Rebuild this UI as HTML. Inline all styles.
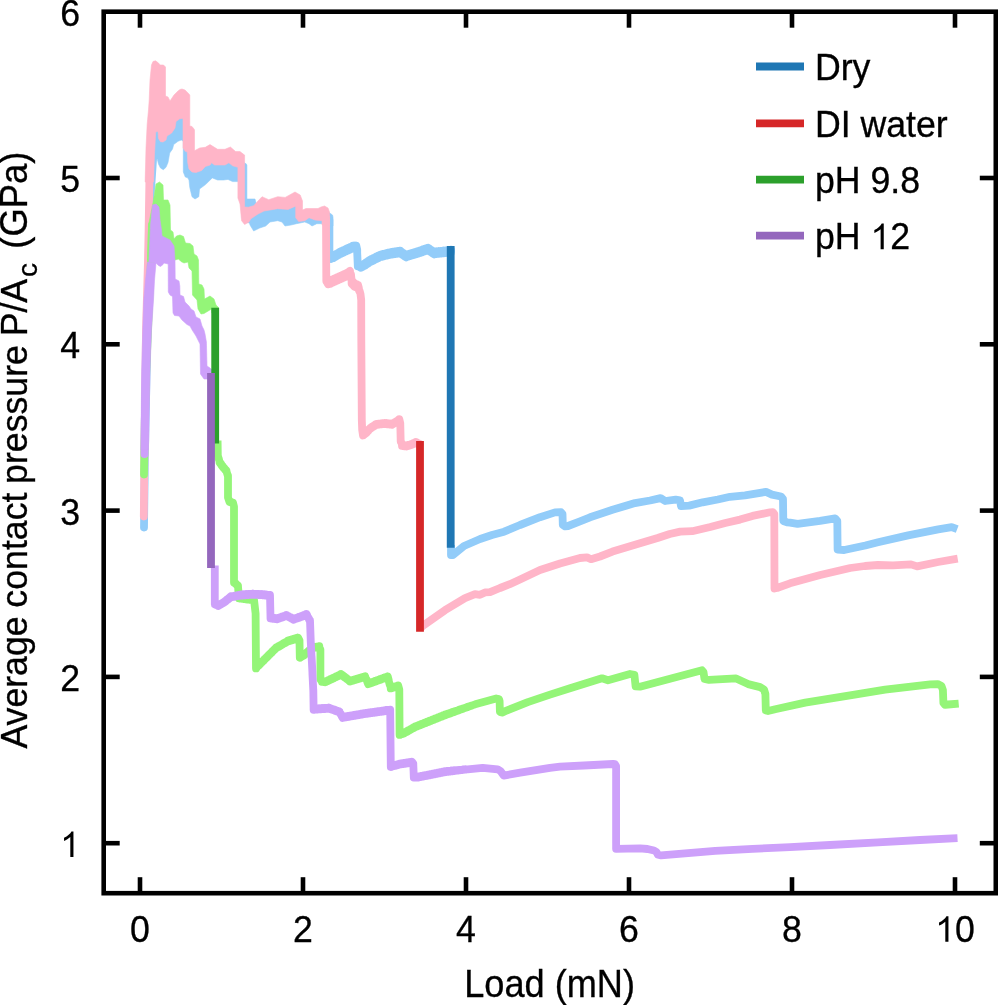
<!DOCTYPE html>
<html><head><meta charset="utf-8"><title>Average contact pressure vs load</title>
<style>
html,body{margin:0;padding:0;background:#fff;}
body{width:998px;height:1005px;overflow:hidden;font-family:"Liberation Sans",sans-serif;}
svg{display:block;will-change:transform;}
.t{font-family:"Liberation Sans",sans-serif;font-size:35.7px;fill:#000;stroke:#000;stroke-width:0.3px;}
</style></head><body>
<svg width="998" height="1005" viewBox="0 0 998 1005">
<rect width="998" height="1005" fill="#fff"/>
<path d="M144,527.5 L145,450 L147.5,330 L149,240 L149.2,225 L150,205 L153,160 L154.5,140 M329.4,220 L329.4,257 L330.2,256.6 L330.2,257.9 L331,258.8 L331,256.2 L331.83,255.93 L331.83,258.53 L332.67,258.27 L332.67,255.67 L333.5,255.4 L333.5,258 L334.31,257.54 L334.31,254.94 L335.12,254.47 L335.12,257.07 L335.94,256.61 L335.94,254.01 L336.75,253.55 L336.75,256.15 L337.56,255.69 L337.56,253.09 L338.38,252.63 L338.38,255.22 L339.19,254.76 L339.19,252.16 L340,251.7 L340,254.3 L340.88,253.89 L340.88,251.29 L341.75,250.88 L341.75,253.47 L342.62,253.06 L342.62,250.46 L343.5,250.05 L343.5,252.65 L344.38,252.24 L344.38,249.64 L345.25,249.22 L345.25,251.82 L346.12,251.41 L346.12,248.81 L347,248.4 L347,251 L347.86,250.61 L347.86,248.01 L348.71,247.63 L348.71,250.23 L349.57,249.84 L349.57,247.24 L350.43,246.86 L350.43,249.46 L351.29,249.07 L351.29,246.47 L352.14,246.09 L352.14,248.69 L353,248.3 L353,245.7 L353.82,245.7 L353.82,248.3 L354.65,248.3 L354.65,245.7 L355.48,245.7 L355.48,248.3 L356.3,248.3 L356.3,245.7 L357.2,249.7 L357.2,252.3 L357.8,266.3 L357.8,263.7 L358.87,264.2 L358.87,266.8 L359.93,267.3 L359.93,264.7 L361,265.2 L361,267.8 L362,267.3 L362,264.7 L363,264.2 L363,266.8 L364,266.3 L364,263.7 L364.86,263.13 L364.86,265.73 L365.71,265.16 L365.71,262.56 L366.57,261.99 L366.57,264.59 L367.43,264.01 L367.43,261.41 L368.29,260.84 L368.29,263.44 L369.14,262.87 L369.14,260.27 L370,259.7 L370,262.3 L370.83,261.88 L370.83,259.28 L371.67,258.87 L371.67,261.47 L372.5,261.05 L372.5,258.45 L373.33,258.03 L373.33,260.63 L374.17,260.22 L374.17,257.62 L375,257.2 L375,259.8 L375.83,259.38 L375.83,256.78 L376.67,256.37 L376.67,258.97 L377.5,258.55 L377.5,255.95 L378.33,255.53 L378.33,258.13 L379.17,257.72 L379.17,255.12 L380,254.7 L380,257.3 L380.83,257.09 L380.83,254.49 L381.67,254.28 L381.67,256.88 L382.5,256.68 L382.5,254.08 L383.33,253.87 L383.33,256.47 L384.17,256.26 L384.17,253.66 L385,253.45 L385,256.05 L385.83,255.84 L385.83,253.24 L386.67,253.03 L386.67,255.63 L387.5,255.42 L387.5,252.83 L388.33,252.62 L388.33,255.22 L389.17,255.01 L389.17,252.41 L390,252.2 L390,254.8 L390.83,254.67 L390.83,252.08 L391.67,251.95 L391.67,254.55 L392.5,254.42 L392.5,251.83 L393.33,251.7 L393.33,254.3 L394.17,254.17 L394.17,251.58 L395,251.45 L395,254.05 L395.83,253.92 L395.83,251.33 L396.67,251.2 L396.67,253.8 L397.5,253.67 L397.5,251.08 L398.33,250.95 L398.33,253.55 L399.17,253.42 L399.17,250.83 L400,250.7 L400,253.3 L400.86,253.87 L400.86,251.27 L401.71,251.84 L401.71,254.44 L402.57,255.01 L402.57,252.41 L403.43,252.99 L403.43,255.59 L404.29,256.16 L404.29,253.56 L405.14,254.13 L405.14,256.73 L406,257.3 L406,254.7 L406.83,254.45 L406.83,257.05 L407.67,256.8 L407.67,254.2 L408.5,253.95 L408.5,256.55 L409.33,256.3 L409.33,253.7 L410.17,253.45 L410.17,256.05 L411,255.8 L411,253.2 L411.83,252.95 L411.83,255.55 L412.67,255.3 L412.67,252.7 L413.5,252.45 L413.5,255.05 L414.33,254.8 L414.33,252.2 L415.17,251.95 L415.17,254.55 L416,254.3 L416,251.7 L416.8,251.43 L416.8,254.03 L417.6,253.77 L417.6,251.17 L418.4,250.9 L418.4,253.5 L419.2,253.23 L419.2,250.63 L420,250.37 L420,252.97 L420.8,252.7 L420.8,250.1 L421.6,249.83 L421.6,252.43 L422.4,252.17 L422.4,249.57 L423.2,249.3 L423.2,251.9 L424,251.63 L424,249.03 L424.8,248.77 L424.8,251.37 L425.6,251.1 L425.6,248.5 L426.4,248.23 L426.4,250.83 L427.2,250.57 L427.2,247.97 L428,247.7 L428,250.3 L428.86,250.87 L428.86,248.27 L429.71,248.84 L429.71,251.44 L430.57,252.01 L430.57,249.41 L431.43,249.99 L431.43,252.59 L432.29,253.16 L432.29,250.56 L433.14,251.13 L433.14,253.73 L434,254.3 L434,251.7 L434.81,251.61 L434.81,254.21 L435.62,254.12 L435.62,251.53 L436.44,251.44 L436.44,254.04 L437.25,253.95 L437.25,251.35 L438.06,251.26 L438.06,253.86 L438.88,253.78 L438.88,251.18 L439.69,251.09 L439.69,253.69 L440.5,253.6 L440.5,251 L441.31,250.91 L441.31,253.51 L442.12,253.42 L442.12,250.83 L442.94,250.74 L442.94,253.34 L443.75,253.25 L443.75,250.65 L444.56,250.56 L444.56,253.16 L445.38,253.08 L445.38,250.48 L446.19,250.39 L446.19,252.99 L447,252.9 L447,250.3 L447.8,250.18 L447.8,252.78 L448.6,252.66 L448.6,250.06 L449.4,249.94 L449.4,252.54 L450.2,252.42 L450.2,249.82 L451,249.7 L451,252.3" fill="none" stroke="#92CCF9" stroke-width="7.8" stroke-linejoin="round" stroke-linecap="round"/>
<path d="M451,545 L451,555 L453,555 L464,546 L480.1,539 L492,535 L504.1,531.7 L520,525 L540,517.2 L555,512.4 L561,512.2 L562.5,514 L562.8,525 L565,526.3 L568,526 L580,521.3 L590,517.3 L612.5,509.8 L635,503.1 L650,500.5 L660.6,498.1 L665.2,501 L675.7,499.6 L680,500.3 L681,506.2 L689.2,505.6 L702.7,502.3 L717.8,499.5 L730,496.8 L745,495.3 L766,491.9 L772,494.6 L781,496.5 L783,499 L783.3,521 L787,522.3 L790,522.6 L797.6,523.9 L820,520.9 L835.2,518.3 L837.3,521 L837.6,549.5 L844.2,550 L865.3,545.5 L878,542.3 L908.1,535.4 L938.2,529.4 L951.7,527.1 L957.2,529.2" fill="none" stroke="#92CCF9" stroke-width="7.8" stroke-linejoin="round" stroke-linecap="butt"/>
<polygon points="151,160 152,135 156,125 162,136 170,128 176,116 182,112 184,115 190,160 237,160 243,160 244.6,163.6 246,163.6 246.9,165 246.9,199 248.4,199 255,199 256,203 257,204 262,205 295,205 300,212 322,214 326,214 329,212.5 332.5,215 333,217 333,226 326,226 322,223.7 316.8,223.7 312,226 309,223.7 304.8,222 296.5,223.7 291,225 285,226 282,222 277.7,220.7 270,222 265.7,226 259.7,228 253.7,231 250,225 249.5,223 244,222 242,218 242,181.6 237,181.6 232.6,181.6 228,179.4 223.6,180 217.6,180 212.3,177.9 205.5,184.6 199.5,189 198.8,196.7 195,199 192,196.7 189.8,187.6 189,180 187.7,177.8 185.3,177 183.3,172 183.3,141.5 183,141 181.3,140 178,141.3 173.7,144.5 172.5,149 169.7,153 168,162.5 166,167.3 163.3,169.7 160.5,168 158.5,164 157.3,159.3 156,157" fill="#92CCF9" stroke="#92CCF9" stroke-width="0.6" stroke-linejoin="round"/>
<path d="M143.8,516.5 L144.5,450 L146,330 L148,260 L148.6,230 L149.4,180 L150,165 M326,218 L326.3,281 L327.15,280.9 L327.15,282.6 L328,284.2 L328,280.8 L329,280.65 L329,284.05 L330,283.9 L330,280.5 L330.83,280.12 L330.83,283.53 L331.67,283.15 L331.67,279.75 L332.5,279.37 L332.5,282.78 L333.33,282.4 L333.33,279 L334.17,278.62 L334.17,282.03 L335,281.65 L335,278.25 L335.83,277.87 L335.83,281.28 L336.67,280.9 L336.67,277.5 L337.5,277.12 L337.5,280.53 L338.33,280.15 L338.33,276.75 L339.17,276.37 L339.17,279.78 L340,279.4 L340,276 L340.88,275.6 L340.88,279 L341.75,278.6 L341.75,275.2 L342.62,274.8 L342.62,278.2 L343.5,277.8 L343.5,274.4 L344.38,274 L344.38,277.4 L345.25,277 L345.25,273.6 L346.12,273.2 L346.12,276.6 L347,276.2 L347,272.8 L348,272.13 L348,275.53 L349,274.87 L349,271.47 L350,270.8 L350,274.2 L351,277.7 L351,274.3 L351.6,280.3 L351.6,283.7 L352.57,284.7 L352.57,281.3 L353.53,282.3 L353.53,285.7 L354.5,286.7 L354.5,283.3 L355.38,283.67 L355.38,287.08 L356.25,287.45 L356.25,284.05 L357.12,284.42 L357.12,287.83 L358,288.2 L358,284.8 L358.83,287.87 L358.83,290.13 L359.67,292.07 L359.67,290.93 L360.5,294 L360.5,294 L361.2,300 L361.3,340 L361.8,420 L362.2,430 L363,435.5 L363,434.5 L364,433.83 L364,434.83 L365,434.17 L365,433.17 L366,432.5 L366,433.5 L366.8,432.6 L366.8,431.6 L367.6,430.7 L367.6,431.7 L368.4,430.8 L368.4,429.8 L369.2,428.9 L369.2,429.9 L370,429 L370,428 L370.86,427.43 L370.86,428.43 L371.71,427.86 L371.71,426.86 L372.57,426.29 L372.57,427.29 L373.43,426.71 L373.43,425.71 L374.29,425.14 L374.29,426.14 L375.14,425.57 L375.14,424.57 L376,424 L376,425 L376.8,424.9 L376.8,423.9 L377.6,423.8 L377.6,424.8 L378.4,424.7 L378.4,423.7 L379.2,423.6 L379.2,424.6 L380,424.5 L380,423.5 L380.8,423.4 L380.8,424.4 L381.6,424.3 L381.6,423.3 L382.4,423.2 L382.4,424.2 L383.2,424.1 L383.2,423.1 L384,423 L384,424 L384.8,424.08 L384.8,423.08 L385.6,423.16 L385.6,424.16 L386.4,424.24 L386.4,423.24 L387.2,423.32 L387.2,424.32 L388,424.4 L388,423.4 L388.8,423.48 L388.8,424.48 L389.6,424.56 L389.6,423.56 L390.4,423.64 L390.4,424.64 L391.2,424.72 L391.2,423.72 L392,423.8 L392,424.8 L392.8,424.34 L392.8,423.34 L393.6,422.88 L393.6,423.88 L394.4,423.42 L394.4,422.42 L395.2,421.96 L395.2,422.96 L396,422.5 L396,421.5 L396.82,420.93 L396.82,421.93 L397.65,421.35 L397.65,420.35 L398.48,419.77 L398.48,420.77 L399.3,420.2 L399.3,419.2 L400.3,423.5 L400.3,424.5 L400.7,441.5 L400.7,440.5 L402,445 L402,446 L402.8,446.1 L402.8,445.1 L403.6,445.2 L403.6,446.2 L404.4,446.3 L404.4,445.3 L405.2,445.4 L405.2,446.4 L406,446.5 L406,445.5 L406.8,445.3 L406.8,446.3 L407.6,446.1 L407.6,445.1 L408.4,444.9 L408.4,445.9 L409.2,445.7 L409.2,444.7 L410,444.5 L410,445.5 L410.86,445.14 L410.86,444.14 L411.71,443.79 L411.71,444.79 L412.57,444.43 L412.57,443.43 L413.43,443.07 L413.43,444.07 L414.29,443.71 L414.29,442.71 L415.14,442.36 L415.14,443.36 L416,443 L416,442 L416.9,442.5 L416.9,443.5 L417.8,444 L417.8,443 L418.7,443.5 L418.7,444.5 L419.6,445 L419.6,444" fill="none" stroke="#FFB5C8" stroke-width="7.8" stroke-linejoin="round" stroke-linecap="round"/>
<path d="M420.2,628.5 L424,625 L435,617.2 L445,610.2 L455,604.2 L465,598.2 L475,594.2 L480,594.8 L485,592.4 L490,592.2 L500,588 L509.8,584.2 L520,579.5 L540,570 L560,563.5 L580,558 L587,557.4 L591,559.2 L600,556.5 L612.5,551.6 L635,544.7 L657.6,538 L669.7,534 L680.2,531.6 L692.2,531.2 L710.2,527 L725.3,523 L740,519.6 L752.5,515.9 L770,512.3 L773,512.2 L774.3,514 L774.5,588.5 L777,588 L790,583.3 L820.2,575 L850.2,568 L865,566 L878,565 L893,565.3 L911,564.4 L917.1,566.4 L938.2,562 L957.7,558.7" fill="none" stroke="#FFB5C8" stroke-width="7.8" stroke-linejoin="round" stroke-linecap="butt"/>
<polygon points="145.2,182 145.2,180 146,148 147.2,124 148.5,110 149.2,100 150,80 151.5,65 153,61.5 155.5,60.8 158.5,63 160,65 163.5,65 165.5,67 165.5,96 168,97 170,101 174,95 178,91 180,89.5 182,89 185,90 188,93 189.8,95 189.8,126 192,126.5 194,129 194.5,130 194.5,150 195,150.5 199.7,148 205.3,147.3 210,144.6 217.6,149.3 225,149.3 230.4,147 235.6,151.6 240,151.6 243.9,154.6 244.6,155 244.6,207 248.4,207.2 253.7,205.7 262,196.7 268.7,199.7 277.7,196.7 285.2,197.4 295,192 300.2,195 302.5,201 302.5,210 306,208.5 318,208.5 321,207 324.5,206 328,208 329.5,212 329.6,225 322,225 322,220.7 315,220 309,217.7 304.8,220.7 298.7,221.5 295.7,217.7 295.7,206.4 295,206.4 288,209.4 277.7,208.7 264,211 258,214 250.6,219 249,222 244.6,224.5 241.6,220.7 240,204 237.9,198 237.9,167.3 232.6,165.8 228.9,162.8 225,165 214.6,165 211.6,162.8 210,165 205.3,166.5 201.7,170.5 196,172.5 192,172 189,169 187.7,162.5 187.3,152 185.3,151.3 183,148 183,118.4 179.7,118.8 176,121.6 175,128 171.7,133 167,136 166,140 163,142 160.5,141.7 158.5,138.5 158,131.3 155.7,132 154.4,156 153.6,180 153.6,182" fill="#FFB5C8" stroke="#FFB5C8" stroke-width="0.6" stroke-linejoin="round"/>
<path d="M144,474.5 L144.8,420 L146.3,370 L148,330 L151,260 L152,225" fill="none" stroke="#94F578" stroke-width="7.8" stroke-linejoin="round" stroke-linecap="round"/>
<path d="M217.6,440.6 L217.6,441.4 L217.8,454.6 L217.8,455.4 L218.65,458.9 L218.65,458.1 L219.5,461.6 L219.5,462.4 L220.38,463.65 L220.38,462.85 L221.25,464.1 L221.25,464.9 L222.12,466.15 L222.12,465.35 L223,466.6 L223,467.4 L223.88,468.4 L223.88,467.6 L224.75,468.6 L224.75,469.4 L225.62,470.4 L225.62,469.6 L226.5,470.6 L226.5,471.4 L228,476.4 L228,475.6 L228,496.6 L228,497.4 L229.5,501.9 L229.5,501.1 L230.38,501.47 L230.38,502.28 L231.25,502.65 L231.25,501.85 L232.12,502.22 L232.12,503.03 L233,503.4 L233,502.6 L234,506.6 L234,507.4 L234,582.4 L234,581.6 L234.8,582.4 L234.8,583.2 L235.6,584 L235.6,583.2 L236.4,584 L236.4,584.8 L237.2,585.6 L237.2,584.8 L238,585.6 L238,586.4 L239,598.4 L239,597.6 L239.83,597.71 L239.83,598.51 L240.67,598.62 L240.67,597.82 L241.5,597.93 L241.5,598.73 L242.33,598.84 L242.33,598.04 L243.17,598.16 L243.17,598.96 L244,599.07 L244,598.27 L244.83,598.38 L244.83,599.18 L245.67,599.29 L245.67,598.49 L246.5,598.6 L246.5,599.4 L247.33,599.51 L247.33,598.71 L248.17,598.82 L248.17,599.62 L249,599.73 L249,598.93 L249.83,599.04 L249.83,599.84 L250.67,599.96 L250.67,599.16 L251.5,599.27 L251.5,600.07 L252.33,600.18 L252.33,599.38 L253.17,599.49 L253.17,600.29 L254,600.4 L254,599.6 L255.6,613.6 L255.6,614.4 L256,668.4 L256,667.6 L256.8,666.8 L256.8,667.6 L257.6,666.8 L257.6,666 L258.4,665.2 L258.4,666 L259.2,665.2 L259.2,664.4 L260,663.6 L260,664.4 L260.8,663.6 L260.8,662.8 L261.6,662 L261.6,662.8 L262.4,662 L262.4,661.2 L263.2,660.4 L263.2,661.2 L264,660.4 L264,659.6 L264.8,658.8 L264.8,659.6 L265.6,658.8 L265.6,658 L266.4,657.2 L266.4,658 L267.2,657.2 L267.2,656.4 L268,655.6 L268,656.4 L268.8,655.6 L268.8,654.8 L269.6,654 L269.6,654.8 L270.4,654 L270.4,653.2 L271.2,652.4 L271.2,653.2 L272,652.4 L272,651.6 L272.8,650.8 L272.8,651.6 L273.6,650.8 L273.6,650 L274.4,649.2 L274.4,650 L275.2,649.2 L275.2,648.4 L276,647.6 L276,648.4 L276.8,647.93 L276.8,647.13 L277.6,646.67 L277.6,647.47 L278.4,647 L278.4,646.2 L279.2,645.73 L279.2,646.53 L280,646.07 L280,645.27 L280.8,644.8 L280.8,645.6 L281.6,645.13 L281.6,644.33 L282.4,643.87 L282.4,644.67 L283.2,644.2 L283.2,643.4 L284,642.93 L284,643.73 L284.8,643.27 L284.8,642.47 L285.6,642 L285.6,642.8 L286.4,642.33 L286.4,641.53 L287.2,641.07 L287.2,641.87 L288,641.4 L288,640.6 L288.83,640.35 L288.83,641.15 L289.67,640.9 L289.67,640.1 L290.5,639.85 L290.5,640.65 L291.33,640.4 L291.33,639.6 L292.17,639.35 L292.17,640.15 L293,639.9 L293,639.1 L293.83,638.85 L293.83,639.65 L294.67,639.4 L294.67,638.6 L295.5,638.35 L295.5,639.15 L296.33,638.9 L296.33,638.1 L297.17,637.85 L297.17,638.65 L298,638.4 L298,637.6 L299.5,640.6 L299.5,641.4 L299.8,657.8 L299.8,657 L300.64,656.52 L300.64,657.32 L301.48,656.84 L301.48,656.04 L302.32,655.56 L302.32,656.36 L303.16,655.88 L303.16,655.08 L304,654.6 L304,655.4 L304.86,654.69 L304.86,653.89 L305.71,653.17 L305.71,653.97 L306.57,653.26 L306.57,652.46 L307.43,651.74 L307.43,652.54 L308.29,651.83 L308.29,651.03 L309.14,650.31 L309.14,651.11 L310,650.4 L310,649.6 L310.8,649.1 L310.8,649.9 L311.6,649.4 L311.6,648.6 L312.4,648.1 L312.4,648.9 L313.2,648.4 L313.2,647.6 L314,647.1 L314,647.9 L314.88,647.75 L314.88,646.95 L315.77,646.8 L315.77,647.6 L316.65,647.45 L316.65,646.65 L317.53,646.5 L317.53,647.3 L318.42,647.15 L318.42,646.35 L319.3,646.2 L319.3,647 L320.4,650.4 L320.4,649.6 L320.4,678.6 L320.4,679.4 L321.2,680.65 L321.2,679.85 L322,681.1 L322,681.9 L322.82,682 L322.82,681.2 L323.65,681.3 L323.65,682.1 L324.48,682.2 L324.48,681.4 L325.3,681.5 L325.3,682.3 L326.13,681.91 L326.13,681.11 L326.96,680.71 L326.96,681.51 L327.79,681.12 L327.79,680.32 L328.63,679.92 L328.63,680.72 L329.46,680.33 L329.46,679.53 L330.29,679.13 L330.29,679.93 L331.12,679.54 L331.12,678.74 L331.95,678.34 L331.95,679.14 L332.78,678.75 L332.78,677.95 L333.62,677.55 L333.62,678.35 L334.45,677.96 L334.45,677.16 L335.28,676.76 L335.28,677.56 L336.11,677.17 L336.11,676.37 L336.94,675.97 L336.94,676.77 L337.77,676.38 L337.77,675.58 L338.61,675.18 L338.61,675.98 L339.44,675.59 L339.44,674.79 L340.27,674.39 L340.27,675.19 L341.1,674.8 L341.1,674 L341.92,674.62 L341.92,675.42 L342.74,676.04 L342.74,675.24 L343.55,675.85 L343.55,676.65 L344.37,677.27 L344.37,676.47 L345.19,677.09 L345.19,677.89 L346.01,678.51 L346.01,677.71 L346.83,678.33 L346.83,679.13 L347.65,679.75 L347.65,678.95 L348.46,679.56 L348.46,680.36 L349.28,680.98 L349.28,680.18 L350.1,680.8 L350.1,681.6 L350.94,681.35 L350.94,680.55 L351.78,680.3 L351.78,681.1 L352.62,680.85 L352.62,680.05 L353.46,679.8 L353.46,680.6 L354.29,680.35 L354.29,679.55 L355.13,679.3 L355.13,680.1 L355.97,679.85 L355.97,679.05 L356.81,678.8 L356.81,679.6 L357.65,679.35 L357.65,678.55 L358.49,678.3 L358.49,679.1 L359.33,678.85 L359.33,678.05 L360.17,677.8 L360.17,678.6 L361.01,678.35 L361.01,677.55 L361.84,677.3 L361.84,678.1 L362.68,677.85 L362.68,677.05 L363.52,676.8 L363.52,677.6 L364.36,677.35 L364.36,676.55 L365.2,676.3 L365.2,677.1 L366.2,679.47 L366.2,678.67 L367.2,681.03 L367.2,681.83 L368.2,684.2 L368.2,683.4 L369.01,683.1 L369.01,683.9 L369.82,683.61 L369.82,682.81 L370.64,682.51 L370.64,683.31 L371.45,683.02 L371.45,682.22 L372.26,681.92 L372.26,682.72 L373.07,682.42 L373.07,681.62 L373.89,681.33 L373.89,682.13 L374.7,681.83 L374.7,681.03 L375.51,680.74 L375.51,681.54 L376.32,681.24 L376.32,680.44 L377.14,680.15 L377.14,680.95 L377.95,680.65 L377.95,679.85 L378.76,679.55 L378.76,680.35 L379.57,680.06 L379.57,679.26 L380.39,678.96 L380.39,679.76 L381.2,679.47 L381.2,678.67 L382.01,678.37 L382.01,679.17 L382.82,678.88 L382.82,678.08 L383.64,677.78 L383.64,678.58 L384.45,678.28 L384.45,677.48 L385.26,677.19 L385.26,677.99 L386.07,677.69 L386.07,676.89 L386.89,676.6 L386.89,677.4 L387.7,677.1 L387.7,676.3 L388.7,680.07 L388.7,680.87 L389.7,684.63 L389.7,683.83 L390.7,687.6 L390.7,688.4 L391.53,688.17 L391.53,687.37 L392.37,687.13 L392.37,687.93 L393.2,687.7 L393.2,686.9 L394.03,686.67 L394.03,687.47 L394.87,687.23 L394.87,686.43 L395.7,686.2 L395.7,687 L396.53,686.77 L396.53,685.97 L397.37,685.73 L397.37,686.53 L398.2,686.3 L398.2,685.5 L399.3,689.6 L399.3,690.4 L399.6,734.9 L399.6,734.1 L400.52,733.8 L400.52,734.6 L401.44,734.3 L401.44,733.5 L402.36,733.2 L402.36,734 L403.28,733.7 L403.28,732.9 L404.2,732.6 L404.2,733.4 L405.03,732.93 L405.03,732.13 L405.86,731.66 L405.86,732.46 L406.69,731.99 L406.69,731.19 L407.52,730.72 L407.52,731.52 L408.35,731.05 L408.35,730.25 L409.18,729.78 L409.18,730.58 L410.02,730.12 L410.02,729.32 L410.85,728.85 L410.85,729.65 L411.68,729.18 L411.68,728.38 L412.51,727.91 L412.51,728.71 L413.34,728.24 L413.34,727.44 L414.17,726.97 L414.17,727.77 L415,727.3 L415,726.5 L415.81,726.18 L415.81,726.98 L416.63,726.65 L416.63,725.85 L417.44,725.53 L417.44,726.33 L418.25,726 L418.25,725.2 L419.07,724.88 L419.07,725.68 L419.88,725.35 L419.88,724.55 L420.69,724.23 L420.69,725.03 L421.51,724.71 L421.51,723.91 L422.32,723.58 L422.32,724.38 L423.14,724.06 L423.14,723.26 L423.95,722.93 L423.95,723.73 L424.76,723.41 L424.76,722.61 L425.58,722.28 L425.58,723.08 L426.39,722.76 L426.39,721.96 L427.2,721.64 L427.2,722.44 L428.02,722.11 L428.02,721.31 L428.83,720.99 L428.83,721.79 L429.64,721.46 L429.64,720.66 L430.46,720.34 L430.46,721.14 L431.27,720.81 L431.27,720.01 L432.08,719.69 L432.08,720.49 L432.9,720.16 L432.9,719.36 L433.71,719.04 L433.71,719.84 L434.52,719.52 L434.52,718.72 L435.34,718.39 L435.34,719.19 L436.15,718.87 L436.15,718.07 L436.96,717.74 L436.96,718.54 L437.78,718.22 L437.78,717.42 L438.59,717.09 L438.59,717.89 L439.41,717.57 L439.41,716.77 L440.22,716.45 L440.22,717.25 L441.03,716.92 L441.03,716.12 L441.85,715.8 L441.85,716.6 L442.66,716.27 L442.66,715.47 L443.47,715.15 L443.47,715.95 L444.29,715.62 L444.29,714.82 L445.1,714.5 L445.1,715.3 L445.91,715 L445.91,714.22 L446.73,713.95 L446.73,714.71 L447.54,714.41 L447.54,713.67 L448.35,713.4 L448.35,714.11 L449.17,713.81 L449.17,713.12 L449.98,712.85 L449.98,713.52 L450.79,713.22 L450.79,712.57 L451.61,712.29 L451.61,712.92 L452.42,712.62 L452.42,712.02 L453.24,711.74 L453.24,712.33 L454.05,712.03 L454.05,711.47 L454.86,711.19 L454.86,711.73 L455.68,711.44 L455.68,710.92 L456.49,710.64 L456.49,711.14 L457.3,710.84 L457.3,710.36 L458.12,710.09 L458.12,710.54 L458.93,710.25 L458.93,709.81 L459.74,709.54 L459.74,709.95 L460.56,709.65 L460.56,709.26 L461.37,708.99 L461.37,709.35 L462.18,709.06 L462.18,708.71 L463,708.44 L463,708.76 L463.81,708.46 L463.81,708.16 L464.62,707.88 L464.62,708.16 L465.44,707.87 L465.44,707.61 L466.25,707.33 L466.25,707.57 L467.06,707.27 L467.06,707.06 L467.88,706.78 L467.88,706.98 L468.69,706.68 L468.69,706.51 L469.51,706.23 L469.51,706.38 L470.32,706.08 L470.32,705.95 L471.13,705.68 L471.13,705.79 L471.95,705.49 L471.95,705.4 L472.76,705.13 L472.76,705.19 L473.57,704.89 L473.57,704.85 L474.39,704.58 L474.39,704.6 L475.2,704.3 L475.2,704.3 L496.2,698.5 L499,699 L499.6,701 L499.9,712 L502,712.6 L505.2,711.1 L527.8,702.1 L550,694.6 L570,688.3 L602,678.3 L608,680.3 L630,674 L634.4,674.8 L635.6,686.3 L640,686.7 L702,670.3 L703.5,672 L704.5,679 L709,679.9 L722.5,679.2 L736.1,678.4 L748.1,684.1 L760.1,687.1 L764,689.5 L765.4,694 L765.8,710.5 L768,711 L775.2,709.2 L805.2,702.6 L850,695.4 L885.1,689.7 L930.2,684.4 L937.7,684.1 L941.5,686 L942.9,690 L943.4,703 L945,704.8 L948,704.5 L958.7,703.6" fill="none" stroke="#94F578" stroke-width="7.8" stroke-linejoin="round" stroke-linecap="butt"/>
<polygon points="147.5,260 148.5,225 153,203 156,184 159.5,182 163,185 163.5,200 168,200 170,205 170.5,230 173,232 174,239 176.5,236 180,235 183.5,236.5 185.5,243 190,243.5 193,246 194,254 197,256 198.5,260 198.8,284 202,285 204,289 204.5,299 210,296 214,299 216,305 218.5,307.5 218.5,311 211.8,313 211.5,309 204,313.5 201,314 198,309 197,300 192.5,295 192,271 189,268 188,262 184,263 181,261.5 178.5,259 175,260 160,258 151,262" fill="#94F578" stroke="#94F578" stroke-width="0.6" stroke-linejoin="round"/>
<path d="M144.5,454 L144.8,420 L145.8,370" fill="none" stroke="#CDA0FA" stroke-width="7.8" stroke-linejoin="round" stroke-linecap="round"/>
<path d="M214.8,565.5 L214.8,566.5 L214.8,603.5 L214.8,604.5 L215.73,604.88 L215.73,603.88 L216.65,604.25 L216.65,605.25 L217.57,605.62 L217.57,604.62 L218.5,605 L218.5,606 L219.36,605.5 L219.36,604.5 L220.21,604 L220.21,605 L221.07,604.5 L221.07,603.5 L221.93,603 L221.93,604 L222.79,603.5 L222.79,602.5 L223.64,602 L223.64,603 L224.5,602.5 L224.5,601.5 L225.36,600.79 L225.36,601.79 L226.21,601.07 L226.21,600.07 L227.07,599.36 L227.07,600.36 L227.93,599.64 L227.93,598.64 L228.79,597.93 L228.79,598.93 L229.64,598.21 L229.64,597.21 L230.5,596.5 L230.5,597.5 L231.36,597.34 L231.36,596.34 L232.23,596.17 L232.23,597.17 L233.09,597.01 L233.09,596.01 L233.95,595.85 L233.95,596.85 L234.82,596.68 L234.82,595.68 L235.68,595.52 L235.68,596.52 L236.55,596.35 L236.55,595.35 L237.41,595.19 L237.41,596.19 L238.27,596.03 L238.27,595.03 L239.14,594.86 L239.14,595.86 L240,595.7 L240,594.7 L240.83,594.63 L240.83,595.63 L241.67,595.57 L241.67,594.57 L242.5,594.5 L242.5,595.5 L243.33,595.43 L243.33,594.43 L244.17,594.37 L244.17,595.37 L245,595.3 L245,594.3 L245.83,594.23 L245.83,595.23 L246.67,595.17 L246.67,594.17 L247.5,594.1 L247.5,595.1 L248.33,595.03 L248.33,594.03 L249.17,593.97 L249.17,594.97 L250,594.9 L250,593.9 L250.83,593.83 L250.83,594.83 L251.67,594.77 L251.67,593.77 L252.5,593.7 L252.5,594.7 L253.36,594.75 L253.36,593.75 L254.23,593.79 L254.23,594.79 L255.09,594.84 L255.09,593.84 L255.95,593.88 L255.95,594.88 L256.82,594.93 L256.82,593.93 L257.68,593.97 L257.68,594.97 L258.55,595.02 L258.55,594.02 L259.41,594.06 L259.41,595.06 L260.27,595.11 L260.27,594.11 L261.14,594.15 L261.14,595.15 L262,595.2 L262,594.2 L262.8,594.28 L262.8,595.28 L263.6,595.36 L263.6,594.36 L264.4,594.44 L264.4,595.44 L265.2,595.52 L265.2,594.52 L266,594.6 L266,595.6 L266.8,595.68 L266.8,594.68 L267.6,594.76 L267.6,595.76 L268.4,595.84 L268.4,594.84 L269.2,594.92 L269.2,595.92 L270,596 L270,595 L270.5,617.5 L270.5,618.5 L271.31,618.6 L271.31,617.6 L272.12,617.7 L272.12,618.7 L272.94,618.8 L272.94,617.8 L273.75,617.9 L273.75,618.9 L274.56,619 L274.56,618 L275.38,618.1 L275.38,619.1 L276.19,619.2 L276.19,618.2 L277,618.3 L277,619.3 L277.86,619 L277.86,618 L278.73,617.7 L278.73,618.7 L279.59,618.4 L279.59,617.4 L280.45,617.1 L280.45,618.1 L281.32,617.8 L281.32,616.8 L282.18,616.5 L282.18,617.5 L283.05,617.2 L283.05,616.2 L283.91,615.9 L283.91,616.9 L284.77,616.6 L284.77,615.6 L285.64,615.3 L285.64,616.3 L286.5,616 L286.5,615 L287.38,615.46 L287.38,616.46 L288.25,616.93 L288.25,615.93 L289.12,616.39 L289.12,617.39 L290,617.85 L290,616.85 L290.88,617.31 L290.88,618.31 L291.75,618.77 L291.75,617.77 L292.62,618.24 L292.62,619.24 L293.5,619.7 L293.5,618.7 L294.31,618.43 L294.31,619.43 L295.12,619.15 L295.12,618.15 L295.94,617.88 L295.94,618.88 L296.75,618.6 L296.75,617.6 L297.56,617.33 L297.56,618.33 L298.38,618.05 L298.38,617.05 L299.19,616.77 L299.19,617.77 L300,617.5 L300,616.5 L300.81,616.17 L300.81,617.17 L301.62,616.85 L301.62,615.85 L302.44,615.52 L302.44,616.52 L303.25,616.2 L303.25,615.2 L304.06,614.88 L304.06,615.88 L304.88,615.55 L304.88,614.55 L305.69,614.23 L305.69,615.23 L306.5,614.9 L306.5,613.9 L307.38,615.55 L307.38,616.55 L308.25,618.2 L308.25,617.2 L309.12,618.85 L309.12,619.85 L310,621.5 L310,620.5 L310.7,639.5 L310.7,640.5 L311.57,657.17 L311.57,656.17 L312.43,672.83 L312.43,673.83 L313.3,690.5 L313.3,689.5 L313.6,708.8 L313.6,709.8 L314.42,709.74 L314.42,708.74 L315.23,708.68 L315.23,709.68 L316.05,709.63 L316.05,708.63 L316.86,708.57 L316.86,709.57 L317.68,709.51 L317.68,708.51 L318.49,708.45 L318.49,709.45 L319.31,709.39 L319.31,708.39 L320.13,708.34 L320.13,709.34 L320.94,709.28 L320.94,708.28 L321.76,708.22 L321.76,709.22 L322.57,709.16 L322.57,708.16 L323.39,708.11 L323.39,709.11 L324.21,709.05 L324.21,708.05 L325.02,707.99 L325.02,708.99 L325.84,708.93 L325.84,707.93 L326.65,707.87 L326.65,708.87 L327.47,708.82 L327.47,707.82 L328.28,707.76 L328.28,708.76 L329.1,708.7 L329.1,707.7 L329.91,707.99 L329.91,708.99 L330.72,709.28 L330.72,708.28 L331.52,708.58 L331.52,709.58 L332.33,709.87 L332.33,708.87 L333.14,709.16 L333.14,710.16 L333.95,710.45 L333.95,709.45 L334.75,709.75 L334.75,710.75 L335.56,711.04 L335.56,710.04 L336.37,710.33 L336.37,711.33 L337.18,711.62 L337.18,710.62 L337.98,710.92 L337.98,711.92 L338.79,712.21 L338.79,711.21 L339.6,711.5 L339.6,712.5 L340.6,714.3 L340.6,713.3 L341.6,715.1 L341.6,716.1 L342.6,717.9 L342.6,716.9 L343.41,716.76 L343.41,717.76 L344.21,717.62 L344.21,716.62 L345.02,716.48 L345.02,717.48 L345.83,717.34 L345.83,716.34 L346.64,716.2 L346.64,717.2 L347.44,717.06 L347.44,716.06 L348.25,715.92 L348.25,716.92 L349.06,716.79 L349.06,715.79 L349.86,715.65 L349.86,716.65 L350.67,716.51 L350.67,715.51 L351.48,715.37 L351.48,716.37 L352.29,716.23 L352.29,715.23 L353.09,715.09 L353.09,716.09 L353.9,715.95 L353.9,714.95 L354.71,714.81 L354.71,715.81 L355.51,715.67 L355.51,714.67 L356.32,714.53 L356.32,715.53 L357.13,715.39 L357.13,714.39 L357.94,714.25 L357.94,715.25 L358.74,715.11 L358.74,714.11 L359.55,713.98 L359.55,714.98 L360.36,714.84 L360.36,713.84 L361.16,713.7 L361.16,714.7 L361.97,714.56 L361.97,713.56 L362.78,713.42 L362.78,714.42 L363.59,714.28 L363.59,713.28 L364.39,713.14 L364.39,714.14 L365.2,714 L365.2,713 L366.01,712.89 L366.01,713.89 L366.82,713.78 L366.82,712.78 L367.62,712.67 L367.62,713.67 L368.43,713.55 L368.43,712.55 L369.24,712.44 L369.24,713.44 L370.05,713.33 L370.05,712.33 L370.85,712.22 L370.85,713.22 L371.66,713.11 L371.66,712.11 L372.47,712 L372.47,713 L373.28,712.88 L373.28,711.88 L374.08,711.77 L374.08,712.77 L374.89,712.66 L374.89,711.66 L375.7,711.55 L375.7,712.55 L376.51,712.44 L376.51,711.44 L377.32,711.33 L377.32,712.33 L378.12,712.22 L378.12,711.22 L378.93,711.1 L378.93,712.1 L379.74,711.99 L379.74,710.99 L380.55,710.88 L380.55,711.88 L381.35,711.77 L381.35,710.77 L382.16,710.66 L382.16,711.66 L382.97,711.55 L382.97,710.55 L383.78,710.43 L383.78,711.43 L384.58,711.32 L384.58,710.32 L385.39,710.21 L385.39,711.21 L386.2,711.1 L386.2,710.1 L387,710.02 L387,711.02 L387.8,710.94 L387.8,709.94 L388.6,709.86 L388.6,710.86 L389.4,710.78 L389.4,709.78 L390.2,709.7 L390.2,710.7 L390.8,767 L390.8,766 L391.64,765.77 L391.64,766.77 L392.47,766.55 L392.47,765.55 L393.31,765.32 L393.31,766.32 L394.15,766.09 L394.15,765.09 L394.98,764.86 L394.98,765.86 L395.82,765.64 L395.82,764.64 L396.65,764.41 L396.65,765.41 L397.49,765.18 L397.49,764.18 L398.33,763.95 L398.33,764.95 L399.16,764.73 L399.16,763.73 L400,763.5 L400,764.5 L400.8,764.38 L400.8,763.38 L401.6,763.26 L401.6,764.26 L402.4,764.14 L402.4,763.14 L403.2,763.02 L403.2,764.02 L404,763.9 L404,762.9 L404.8,762.78 L404.8,763.78 L405.6,763.66 L405.6,762.66 L406.4,762.54 L406.4,763.54 L407.2,763.42 L407.2,762.42 L408,762.3 L408,763.3 L408.8,763.18 L408.8,762.18 L409.6,762.06 L409.6,763.06 L410.4,762.94 L410.4,761.94 L411.2,761.82 L411.2,762.82 L412,762.7 L412,761.7 L413.3,763.5 L413.3,764.5 L413.8,777.5 L413.8,776.5 L414.64,776.52 L414.64,777.52 L415.48,777.54 L415.48,776.54 L416.32,776.56 L416.32,777.56 L417.16,777.58 L417.16,776.58 L418,776.6 L418,777.6 L418.82,777.44 L418.82,776.44 L419.64,776.27 L419.64,777.27 L420.46,777.11 L420.46,776.11 L421.28,775.95 L421.28,776.95 L422.11,776.78 L422.11,775.78 L422.93,775.62 L422.93,776.62 L423.75,776.45 L423.75,775.45 L424.57,775.29 L424.57,776.29 L425.39,776.13 L425.39,775.13 L426.21,774.96 L426.21,775.96 L427.03,775.8 L427.03,774.8 L427.85,774.64 L427.85,775.64 L428.68,775.47 L428.68,774.47 L429.5,774.31 L429.5,775.31 L430.32,775.15 L430.32,774.15 L431.14,773.98 L431.14,774.98 L431.96,774.82 L431.96,773.82 L432.78,773.65 L432.78,774.65 L433.6,774.49 L433.6,773.49 L434.42,773.33 L434.42,774.33 L435.25,774.16 L435.25,773.16 L436.07,773 L436.07,774 L436.89,773.84 L436.89,772.84 L437.71,772.67 L437.71,773.67 L438.53,773.51 L438.53,772.51 L439.35,772.35 L439.35,773.35 L440.17,773.18 L440.17,772.18 L440.99,772.02 L440.99,773.02 L441.82,772.85 L441.82,771.85 L442.64,771.69 L442.64,772.69 L443.46,772.53 L443.46,771.53 L444.28,771.36 L444.28,772.36 L445.1,772.2 L445.1,771.2 L445.9,771.13 L445.9,772.1 L446.71,771.99 L446.71,771.06 L447.51,771 L447.51,771.89 L448.31,771.79 L448.31,770.93 L449.12,770.86 L449.12,771.68 L449.92,771.58 L449.92,770.79 L450.73,770.73 L450.73,771.48 L451.53,771.37 L451.53,770.66 L452.33,770.59 L452.33,771.27 L453.14,771.16 L453.14,770.52 L453.94,770.45 L453.94,771.06 L454.74,770.96 L454.74,770.39 L455.55,770.32 L455.55,770.85 L456.35,770.75 L456.35,770.25 L457.15,770.18 L457.15,770.65 L457.96,770.54 L457.96,770.11 L458.76,770.05 L458.76,770.44 L459.56,770.34 L459.56,769.98 L460.37,769.91 L460.37,770.23 L461.17,770.13 L461.17,769.84 L461.98,769.77 L461.98,770.02 L462.78,769.92 L462.78,769.71 L463.58,769.64 L463.58,769.82 L464.39,769.71 L464.39,769.57 L465.19,769.5 L465.19,769.61 L465.99,769.51 L465.99,769.44 L466.8,769.37 L466.8,769.4 L467.6,769.3 L467.6,769.3 L482.7,767.8 L497.7,769.3 L500.5,771 L503.7,775.6 L520.2,772.6 L550,767.8 L560,766.7 L584,765.5 L613,764 L615,764.2 L616.1,766 L616.1,848.8 L640,848.3 L647.5,849 L654,850.5 L656.5,852 L658,854.8 L661,855.4 L685.1,853.3 L715.2,850.9 L752.7,848.9 L790,847.1 L830,845 L878,842.4 L920,840 L957.5,838.1" fill="none" stroke="#CDA0FA" stroke-width="7.8" stroke-linejoin="round" stroke-linecap="butt"/>
<polygon points="141,450 141,440 141.7,370 142.8,330 143.8,300 145.5,280 147.5,262 156,263 154.5,280 153.5,300 151.5,330 150,370 148.7,440 148.3,450" fill="#CDA0FA" stroke="#CDA0FA" stroke-width="0.6" stroke-linejoin="round"/>
<polygon points="149,262 150.5,225 152.5,205 156,204 159,207 160,220 161.5,230 162,236 170,240 174,246 175,260 175.2,279 179,281 179.8,286 180,295 183.5,296.5 185,302 189,306 191,309 194,311 196,317 200,319 202,326 204,330 205,334 206.4,342 207,366 210,368 213,371 214.5,373 214.5,379 204,379 200.5,374 200,344 196,336 192,329.8 190,326 187,324.5 182,320 179,316 174.5,315.5 173,313 172.5,296.5 170,295 168.3,292 168.2,264 164,263 163,264.5 160.5,266.5 158.5,265.5 156,263" fill="#CDA0FA" stroke="#CDA0FA" stroke-width="0.6" stroke-linejoin="round"/>
<line x1="450.7" y1="246.0" x2="450.7" y2="547.8" stroke="#1f77b4" stroke-width="7.8"/>
<line x1="420.0" y1="441.0" x2="420.0" y2="631.8" stroke="#d62728" stroke-width="7.8"/>
<line x1="215.2" y1="307.8" x2="215.2" y2="443.6" stroke="#2ca02c" stroke-width="7.8"/>
<line x1="211.0" y1="373.0" x2="211.0" y2="568.0" stroke="#9467bd" stroke-width="7.8"/>
<rect x="103.7" y="11.7" width="892.0999999999999" height="881.5" fill="none" stroke="#000" stroke-width="4.6"/>
<line x1="140.0" y1="893.2" x2="140.0" y2="877.2" stroke="#000" stroke-width="4.6"/>
<line x1="140.0" y1="11.7" x2="140.0" y2="27.7" stroke="#000" stroke-width="4.6"/>
<text transform="translate(140.0,941.8) scale(1,1.06)" text-anchor="middle" class="t">0</text>
<line x1="303.0" y1="893.2" x2="303.0" y2="877.2" stroke="#000" stroke-width="4.6"/>
<line x1="303.0" y1="11.7" x2="303.0" y2="27.7" stroke="#000" stroke-width="4.6"/>
<text transform="translate(303.0,941.8) scale(1,1.06)" text-anchor="middle" class="t">2</text>
<line x1="466.0" y1="893.2" x2="466.0" y2="877.2" stroke="#000" stroke-width="4.6"/>
<line x1="466.0" y1="11.7" x2="466.0" y2="27.7" stroke="#000" stroke-width="4.6"/>
<text transform="translate(466.0,941.8) scale(1,1.06)" text-anchor="middle" class="t">4</text>
<line x1="629.0" y1="893.2" x2="629.0" y2="877.2" stroke="#000" stroke-width="4.6"/>
<line x1="629.0" y1="11.7" x2="629.0" y2="27.7" stroke="#000" stroke-width="4.6"/>
<text transform="translate(629.0,941.8) scale(1,1.06)" text-anchor="middle" class="t">6</text>
<line x1="792.0" y1="893.2" x2="792.0" y2="877.2" stroke="#000" stroke-width="4.6"/>
<line x1="792.0" y1="11.7" x2="792.0" y2="27.7" stroke="#000" stroke-width="4.6"/>
<text transform="translate(792.0,941.8) scale(1,1.06)" text-anchor="middle" class="t">8</text>
<line x1="955.0" y1="893.2" x2="955.0" y2="877.2" stroke="#000" stroke-width="4.6"/>
<line x1="955.0" y1="11.7" x2="955.0" y2="27.7" stroke="#000" stroke-width="4.6"/>
<path transform="translate(935.15,941.8) scale(0.01743,-0.01743)" d="M763 0L583 0L583 1147Q518 1085 412.5 1023Q307 961 223 930L223 1104Q374 1175 487 1276Q600 1377 647 1472L763 1472Z" fill="#000"/><text transform="translate(955.0,941.8) scale(1,1.06)" text-anchor="start" class="t">0</text>
<line x1="103.7" y1="843.2" x2="119.7" y2="843.2" stroke="#000" stroke-width="4.6"/>
<line x1="995.8" y1="843.2" x2="979.8" y2="843.2" stroke="#000" stroke-width="4.6"/>
<path transform="translate(60.15,857.1) scale(0.01743,-0.01743)" d="M763 0L583 0L583 1147Q518 1085 412.5 1023Q307 961 223 930L223 1104Q374 1175 487 1276Q600 1377 647 1472L763 1472Z" fill="#000"/>
<line x1="103.7" y1="676.9000000000001" x2="119.7" y2="676.9000000000001" stroke="#000" stroke-width="4.6"/>
<line x1="995.8" y1="676.9000000000001" x2="979.8" y2="676.9000000000001" stroke="#000" stroke-width="4.6"/>
<text transform="translate(80.0,690.8000000000001) scale(1,1.06)" text-anchor="end" class="t">2</text>
<line x1="103.7" y1="510.6" x2="119.7" y2="510.6" stroke="#000" stroke-width="4.6"/>
<line x1="995.8" y1="510.6" x2="979.8" y2="510.6" stroke="#000" stroke-width="4.6"/>
<text transform="translate(80.0,524.5) scale(1,1.06)" text-anchor="end" class="t">3</text>
<line x1="103.7" y1="344.3" x2="119.7" y2="344.3" stroke="#000" stroke-width="4.6"/>
<line x1="995.8" y1="344.3" x2="979.8" y2="344.3" stroke="#000" stroke-width="4.6"/>
<text transform="translate(80.0,358.2) scale(1,1.06)" text-anchor="end" class="t">4</text>
<line x1="103.7" y1="178.0" x2="119.7" y2="178.0" stroke="#000" stroke-width="4.6"/>
<line x1="995.8" y1="178.0" x2="979.8" y2="178.0" stroke="#000" stroke-width="4.6"/>
<text transform="translate(80.0,191.9) scale(1,1.06)" text-anchor="end" class="t">5</text>
<text transform="translate(80.0,25.600000000000044) scale(1,1.06)" text-anchor="end" class="t">6</text>
<line x1="756.0" y1="66.5" x2="804.0" y2="66.5" stroke="#1f77b4" stroke-width="7.8"/>
<text transform="translate(814.9,80.3) scale(1,1.06)" text-anchor="start" class="t">Dry</text>
<line x1="756.0" y1="123.3" x2="804.0" y2="123.3" stroke="#d62728" stroke-width="7.8"/>
<text transform="translate(814.9,136.8) scale(1,1.06)" text-anchor="start" class="t">DI water</text>
<line x1="756.0" y1="179.6" x2="804.0" y2="179.6" stroke="#2ca02c" stroke-width="7.8"/>
<text transform="translate(814.9,193.0) scale(1,1.06)" text-anchor="start" class="t">pH 9.8</text>
<line x1="756.0" y1="235.6" x2="804.0" y2="235.6" stroke="#9467bd" stroke-width="7.8"/>
<text transform="translate(814.9,249.2) scale(1,1.06)" text-anchor="start" class="t">pH </text><path transform="translate(870.45,249.2) scale(0.01743,-0.01743)" d="M763 0L583 0L583 1147Q518 1085 412.5 1023Q307 961 223 930L223 1104Q374 1175 487 1276Q600 1377 647 1472L763 1472Z" fill="#000"/><text transform="translate(890.2984,249.2) scale(1,1.06)" text-anchor="start" class="t">2</text>
<text transform="translate(549.6,997.4) scale(1,1.05)" text-anchor="middle" class="t" style="font-size:36.15px">Load (mN)</text>
<text transform="translate(27.0,748.6) rotate(-90) scale(1,1.06)" class="t" style="font-size:35.7px;word-spacing:-1.2px">Average contact pressure P/A</text>
<text transform="translate(37.2,277.0) rotate(-90) scale(1,1)" class="t" style="font-size:28px;word-spacing:0px">c</text>
<text transform="translate(27.0,248.7) rotate(-90) scale(1,1.06)" class="t" style="font-size:36.4px;word-spacing:0px">(GPa)</text>
</svg>
</body></html>
